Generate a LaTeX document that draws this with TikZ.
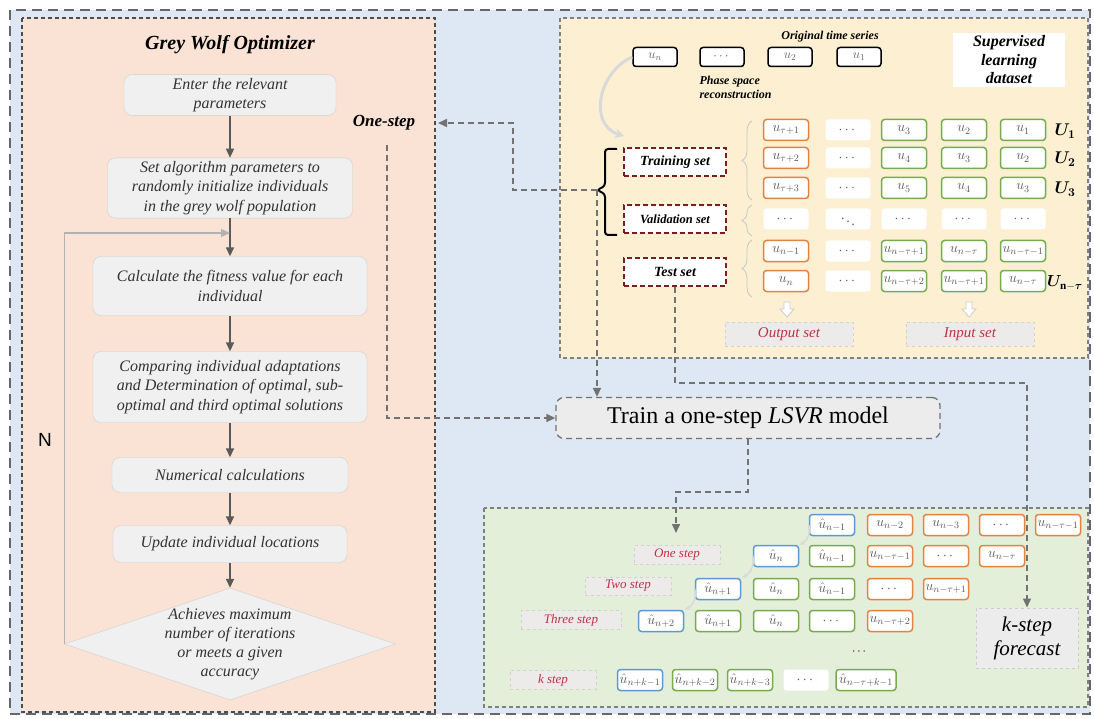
\RequirePackage{fix-cm}
\documentclass[tikz,border=0pt]{standalone}
\usepackage{amsmath,amssymb}
\usepackage{bm}
\usepackage{fontspec}
\setmainfont{Liberation Serif}
\setsansfont{Liberation Sans}
\usepackage{tikz}
\usetikzlibrary{arrows.meta,positioning,calc,shapes.geometric,decorations.pathreplacing}

\definecolor{outerblue}{HTML}{DEE8F4}
\definecolor{gwopeach}{HTML}{FAE2D4}
\definecolor{datayellow}{HTML}{FDF0D2}
\definecolor{predgreen}{HTML}{E4EFDA}
\definecolor{flowfill}{HTML}{F0F0F0}
\definecolor{flowline}{HTML}{CFCFCF}
\definecolor{arrowgray}{HTML}{5A5A5A}
\definecolor{linkgray}{HTML}{727272}
\definecolor{outorange}{HTML}{E3833F}
\definecolor{ingreen}{HTML}{77AC4E}
\definecolor{predblue}{HTML}{5B9BD5}
\definecolor{setred}{HTML}{7B1E1E}
\definecolor{labelred}{HTML}{C0304A}
\definecolor{labelfill}{HTML}{EDEAEA}

\tikzset{
  flowbox/.style={draw=flowline, fill=flowfill, rounded corners=8pt, align=center,
    font=\fontsize{16}{19.5}\selectfont\itshape, text=black!80},
  flowarrow/.style={draw=arrowgray, line width=1.5pt, -{Triangle[length=9pt,width=8pt]}},
  loopline/.style={draw=gray!60, line width=1.2pt, -{Triangle[length=9pt,width=8pt]}},
  link/.style={draw=linkgray, line width=1.5pt, dash pattern=on 6pt off 4pt},
  linkarrow/.style={link, -{Triangle[length=9pt,width=8pt]}},
  panelline/.style={draw=black!70, line width=1.2pt, dash pattern=on 4pt off 3pt},
  outerline/.style={draw=black!60, line width=2.5pt, dash pattern=on 10pt off 6pt},
  rawbox/.style={draw=black, line width=1.5pt, fill=white, rounded corners=3pt,
    minimum width=44pt, minimum height=19pt, inner sep=1pt,
    font=\fontsize{13}{14}\selectfont, text=black!60},
  cell/.style={fill=white, rounded corners=3pt, line width=1.5pt, minimum width=45pt,
    minimum height=21pt, inner sep=1pt, font=\fontsize{14}{15}\selectfont, text=black!65},
  outcell/.style={cell, draw=outorange},
  incell/.style={cell, draw=ingreen},
  predcell/.style={cell, draw=predblue},
  blankcell/.style={cell},
  setbox/.style={draw=setred, fill=white, line width=2pt, dash pattern=on 5pt off 3pt,
    minimum width=102pt, minimum height=28pt, font=\fontsize{14}{16}\selectfont\bfseries\itshape},
  setlabel/.style={draw=gray!35, fill=labelfill, line width=1pt, dashed, text=labelred,
    font=\fontsize{15}{17}\selectfont\itshape, minimum width=128pt, minimum height=24pt},
  steplabel/.style={setlabel, font=\fontsize{13}{15}\selectfont\itshape, minimum width=86pt,
    minimum height=18pt},
  setbrace/.style={draw=gray!45, line width=0.8pt, decorate, decoration={brace, amplitude=10pt}},
  hollow/.style={draw=gray!40, fill=white, line width=0.8pt},
  arcline/.style={draw=gray!30, line width=2pt, -{Stealth[length=6pt]}},
  ulabel/.style={font=\fontsize{17}{19}\selectfont},
}

\begin{document}
\begin{tikzpicture}[x=1pt,y=-1pt]
    \useasboundingbox (0,0) rectangle (1094,719);

    % Background panels
    \draw[outerline, fill=outerblue] (10,10) rectangle (1090,714);
    \draw[panelline, fill=gwopeach] (22,18) rectangle (435,712);
    \draw[panelline, draw=black!50, fill=datayellow] (560,18) rectangle (1088,358);
    \draw[panelline, draw=black!50, fill=predgreen] (484,508) rectangle (1088,707);

    % Grey wolf optimizer
    \node[font=\fontsize{20}{22}\selectfont\bfseries\itshape] (gwo) at (230,45) {Grey Wolf Optimizer};
    \node[flowbox, minimum width=212, minimum height=40] (enter) at (230,95) {Enter the relevant\\parameters};
    \node[flowbox, minimum width=245, minimum height=60] (init) at (230,188)
        {Set algorithm parameters to\\randomly initialize individuals\\in the grey wolf population};
    \node[flowbox, minimum width=274, minimum height=59] (fit) at (230,286)
        {Calculate the fitness value for each\\individual};
    \node[flowbox, minimum width=274, minimum height=71] (compare) at (230,387)
        {Comparing individual adaptations\\and Determination of optimal, sub-\\optimal and third optimal solutions};
    \node[flowbox, minimum width=236, minimum height=35] (numcalc) at (230,475) {Numerical calculations};
    \node[flowbox, minimum width=234, minimum height=37] (update) at (230,544) {Update individual locations};
    \node[diamond, draw=flowline, fill=flowfill, inner sep=0pt, minimum width=331, minimum height=112] (stop) at (230,644) {};
    \node[align=center, font=\fontsize{16}{19}\selectfont\itshape, text=black!80] (stoptext) at (stop)
        {Achieves maximum\\number of iterations\\or meets a given\\accuracy};
    \node[font=\sffamily\fontsize{19}{20}\selectfont] (nlabel) at (45,440) {N};
    \node[font=\fontsize{17}{19}\selectfont\bfseries\itshape] (onestep) at (384,123) {One-step};

    \draw[flowarrow] (enter) -- (init);
    \draw[flowarrow] (init) -- (fit);
    \draw[flowarrow] (fit) -- (compare);
    \draw[flowarrow] (compare) -- (numcalc);
    \draw[flowarrow] (numcalc) -- (update);
    \draw[flowarrow] (update) -- (stop);
    \coordinate (merge) at (230,233);
    \draw[loopline] (stop.west) -- (stop.west |- merge) -- (merge);

    % Supervised learning dataset
    \node[font=\fontsize{12}{14}\selectfont\bfseries\itshape] (series) at (830,37) {Original time series};
    \node[rawbox] (rawn) at (655,57) {$u_n$};
    \node[rawbox] (rawdots) at (722,57) {$\cdots$};
    \node[rawbox] (raw2) at (790,57) {$u_2$};
    \node[rawbox] (raw1) at (859,57) {$u_1$};
    \node[anchor=west, align=left, font=\fontsize{12}{14}\selectfont\bfseries\itshape] (psr) at (696,87)
        {Phase space\\reconstruction};
    \node[fill=white, align=center, minimum width=112, minimum height=54,
          font=\fontsize{16}{18.5}\selectfont\bfseries\itshape] (sld) at (1009,60)
        {Supervised\\learning\\dataset};
    \draw[arcline, line width=3pt, -{Stealth[length=9pt,width=10pt]}] (rawn.west)
        .. controls (598,72) and (588,125) .. (624,136);

    \foreach \y/\r/\ua/\ub/\uc/\ud in {130/1/{u_{\tau+1}}/{u_3}/{u_2}/{u_1},
        158/2/{u_{\tau+2}}/{u_4}/{u_3}/{u_2},
        188/3/{u_{\tau+3}}/{u_5}/{u_4}/{u_3},
        251/5/{u_{n-1}}/{u_{n-\tau+1}}/{u_{n-\tau}}/{u_{n-\tau-1}},
        281/6/{u_n}/{u_{n-\tau+2}}/{u_{n-\tau+1}}/{u_{n-\tau}}}{
        \node[outcell] (m\r-1) at (786,\y) {$\ua$};
        \node[blankcell] (m\r-2) at (848,\y) {$\cdots$};
        \node[incell] (m\r-3) at (904,\y) {$\ub$};
        \node[incell] (m\r-4) at (964,\y) {$\uc$};
        \node[incell] (m\r-5) at (1023,\y) {$\ud$};
    }
    \node[blankcell] (m4-1) at (786,219) {$\cdots$};
    \node[blankcell] (m4-2) at (848,219) {$\ddots$};
    \node[blankcell] (m4-3) at (904,219) {$\cdots$};
    \node[blankcell] (m4-4) at (964,219) {$\cdots$};
    \node[blankcell] (m4-5) at (1023,219) {$\cdots$};

    \node[ulabel] (u1) at (1065,131) {$\bm{U_1}$};
    \node[ulabel] (u2) at (1065,159) {$\bm{U_2}$};
    \node[ulabel] (u3) at (1065,189) {$\bm{U_3}$};
    \node[ulabel, font=\fontsize{16}{18}\selectfont] (unt) at (1065,283) {$\bm{U}_{\mathbf{n}-\bm{\tau}}$};

    \node[setbox] (trainset) at (675,162) {Training set};
    \node[setbox, font=\fontsize{12.5}{14}\selectfont\bfseries\itshape] (valset) at (675,219) {Validation set};
    \node[setbox] (testset) at (675,272) {Test set};
    \draw[setbrace] (752,200) -- (752,121);
    \draw[setbrace] (752,236) -- (752,205);
    \draw[setbrace] (752,297) -- (752,240);
    \draw[line width=2pt, rounded corners=3pt] (617,149) -- (605,149) -- (605,186) -- (597,190)
        -- (605,194) -- (605,235) -- (617,235);
    \coordinate (bracetip) at (597,190);

    \draw[hollow] (784,302) -- ++(6,0) -- ++(0,7) -- ++(4,0) -- ++(-7,8) -- ++(-7,-8) -- ++(4,0) -- cycle;
    \draw[hollow] (966,302) -- ++(6,0) -- ++(0,7) -- ++(4,0) -- ++(-7,8) -- ++(-7,-8) -- ++(4,0) -- cycle;
    \node[setlabel] (outset) at (789,334) {Output set};
    \node[setlabel] (inset) at (970,334) {Input set};

    % One-step model
    \node[draw=linkgray, fill=gray!15, line width=1.3pt, dash pattern=on 6pt off 4pt, rounded corners=8pt,
          minimum width=384, minimum height=41, font=\fontsize{24}{28}\selectfont] (train) at (748,418)
        {Train a one-step \textit{LSVR} model};

    % Multi-step prediction
    \foreach \x/\kind/\txt [count=\i] in {832/predcell/{\hat u_{n-1}}, 890/outcell/{u_{n-2}},
        946/outcell/{u_{n-3}}, 1002/outcell/{\cdots}, 1058/outcell/{u_{n-\tau-1}}}
        \node[\kind] (g0-\i) at (\x,525) {$\txt$};
    \foreach \x/\kind/\txt [count=\i] in {776/predcell/{\hat u_{n}}, 832/incell/{\hat u_{n-1}},
        890/outcell/{u_{n-\tau-1}}, 946/outcell/{\cdots}, 1002/outcell/{u_{n-\tau}}}
        \node[\kind] (g1-\i) at (\x,556) {$\txt$};
    \foreach \x/\kind/\txt [count=\i] in {718/predcell/{\hat u_{n+1}}, 776/incell/{\hat u_{n}},
        832/incell/{\hat u_{n-1}}, 890/outcell/{\cdots}, 946/outcell/{u_{n-\tau+1}}}
        \node[\kind] (g2-\i) at (\x,589) {$\txt$};
    \foreach \x/\kind/\txt [count=\i] in {661/predcell/{\hat u_{n+2}}, 718/incell/{\hat u_{n+1}},
        776/incell/{\hat u_{n}}, 832/incell/{\cdots}, 890/outcell/{u_{n-\tau+2}}}
        \node[\kind] (g3-\i) at (\x,621) {$\txt$};
    \foreach \x/\kind/\txt [count=\i] in {640/predcell/{\hat u_{n+k-1}}, 695/incell/{\hat u_{n+k-2}},
        750/incell/{\hat u_{n+k-3}}, 806/blankcell/{\cdots}}
        \node[\kind] (gk-\i) at (\x,680) {$\txt$};
    \node[incell, minimum width=60] (gk-5) at (866,680) {$\hat u_{n-\tau+k-1}$};
    \node[font=\fontsize{12}{13}\selectfont] (vdots) at (860,652) {$\cdots$};

    \node[steplabel] (one) at (677,555) {One step};
    \node[steplabel] (two) at (628,586) {Two step};
    \node[steplabel, minimum width=100] (three) at (571,620) {Three step};
    \node[steplabel] (kth) at (553,680) {k step};
    \node[draw=gray!40, fill=gray!15, line width=1pt, dashed, minimum width=102, minimum height=60,
          align=center, font=\fontsize{21}{24}\selectfont\itshape] (forecast) at (1027,638) {k-step\\forecast};

    \draw[arcline, line width=1.5pt] (g0-1.west) to[bend left=40] (g1-1.north east);
    \draw[arcline, line width=1.5pt] (g1-1.west) to[bend left=40] (g2-1.north east);
    \draw[arcline, line width=1.5pt] (g2-1.west) to[bend left=40] (g3-1.north east);

    % Dashed connectors
    \coordinate (onestepin) at (438,123);
    \coordinate (gwoout) at (387,145);
    \coordinate (steptop) at (676,533);
    \draw[linkarrow] (bracetip) -| (513,123) -- (onestepin);
    \draw[linkarrow] (bracetip) -- (bracetip |- train.north);
    \draw[linkarrow] (gwoout) |- (train.west);
    \draw[linkarrow] (testset.south) -- ++(0,96) -| (forecast.north);
    \draw[linkarrow] (train.south) -- ++(0,53) -| (steptop);
\end{tikzpicture}
\end{document}
